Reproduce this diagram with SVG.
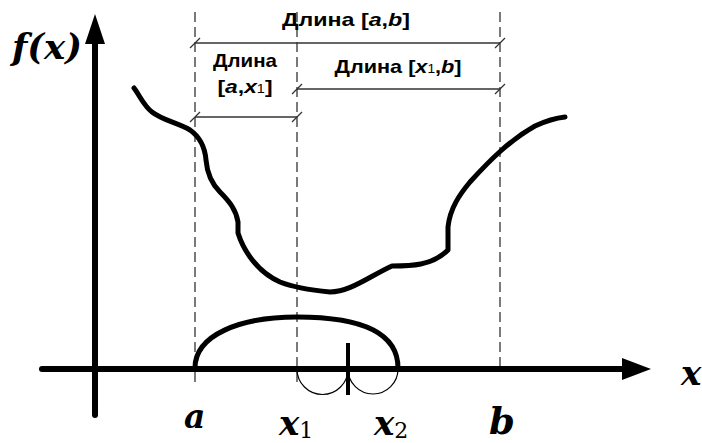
<svg xmlns="http://www.w3.org/2000/svg" width="702" height="443" viewBox="0 0 702 443">
<style>
.axis{stroke:#000;stroke-width:6;fill:none;stroke-linecap:round}
.dash{stroke:#333;stroke-width:1.3;stroke-dasharray:10,5;fill:none}
.dim{stroke:#333;stroke-width:1.3;fill:none}
.curve{stroke:#000;stroke-width:5;fill:none;stroke-linecap:round;stroke-linejoin:round}
.thin{stroke:#000;stroke-width:1.2;fill:none}
.lbl{font-family:'Liberation Sans',Arial,sans-serif;font-weight:bold;font-size:19px;fill:#000;text-anchor:middle}
.math{font-family:'DejaVu Serif',serif;font-weight:bold;font-style:italic;fill:#000}
.sub{font-weight:normal;font-style:normal}
</style>
<rect width="702" height="443" fill="#fff"/>
<g id="guides">
<line class="dash" x1="195" y1="12" x2="195" y2="385"/>
<line class="dash" x1="297" y1="12" x2="297" y2="385"/>
<line class="dash" x1="500" y1="12" x2="500" y2="370"/>
</g>
<g id="dimensions">
<line class="dim" x1="195" y1="43" x2="500" y2="43"/>
<line class="dim" x1="190" y1="48" x2="200" y2="38"/>
<line class="dim" x1="495" y1="48" x2="505" y2="38"/>
<line class="dim" x1="297" y1="89" x2="500" y2="89"/>
<line class="dim" x1="292" y1="94" x2="302" y2="84"/>
<line class="dim" x1="495" y1="94" x2="505" y2="84"/>
<line class="dim" x1="195" y1="117" x2="297" y2="117"/>
<line class="dim" x1="190" y1="122" x2="200" y2="112"/>
<line class="dim" x1="292" y1="122" x2="302" y2="112"/>
</g>
<g id="dim-labels">
<text class="lbl" x="346" y="26" textLength="128" lengthAdjust="spacingAndGlyphs">Длина [<tspan font-style="italic">a</tspan>,<tspan font-style="italic">b</tspan>]</text>
<text class="lbl" x="398" y="73" textLength="127" lengthAdjust="spacingAndGlyphs">Длина [<tspan font-style="italic">x</tspan><tspan font-size="12" font-weight="normal">1</tspan>,<tspan font-style="italic">b</tspan>]</text>
<text class="lbl" x="245" y="67" textLength="64" lengthAdjust="spacingAndGlyphs">Длина</text>
<text class="lbl" x="245" y="93" textLength="55" lengthAdjust="spacingAndGlyphs">[<tspan font-style="italic">a</tspan>,<tspan font-style="italic">x</tspan><tspan font-size="12" font-weight="normal">1</tspan>]</text>
</g>
<g id="axes">
<line class="axis" x1="95" y1="415" x2="95" y2="44"/>
<polygon points="95,14 85,44 105,44" fill="#000"/>
<line class="axis" x1="42" y1="369" x2="622" y2="369"/>
<polygon points="651,369 622,358 622,380" fill="#000"/>
</g>
<g id="function-curve">
<path class="curve" d="M134,88 C140,96 144,106 152,112 C162,120 178,123 190,130 C200,137 205,148 206,160 C207,172 210,182 220,192 C230,202 236,210 238,222 L238,233 C244,252 258,272 280,282 C295,288 310,290 330,292 C350,292 370,276 392,266 C410,266 432,266 448,250 L448,227 C450,208 460,194 470,182 C490,160 510,140 535,126 C548,120 556,118 565,117"/>
</g>
<g id="interval">
<path class="curve" d="M195,368 C195,335 240,317 297,317 C355,317 398,330 398,368"/>
<line x1="348" y1="343" x2="348" y2="395" stroke="#000" stroke-width="4"/>
<path class="thin" d="M297,369 A25.5,25.5 0 0 0 348,369 A25,25 0 0 0 398,369"/>
</g>
<g id="math-labels">
<text class="math" x="12" y="59" font-size="36" textLength="70" lengthAdjust="spacingAndGlyphs">f(x)</text>
<text class="math" x="681" y="385" font-size="34">x</text>
<text class="math" x="184" y="428" font-size="33">a</text>
<text class="math" x="279" y="435" font-size="34">x<tspan class="sub" font-size="22" dy="3">1</tspan></text>
<text class="math" x="374" y="435" font-size="34">x<tspan class="sub" font-size="22" dy="3">2</tspan></text>
<text class="math" x="489" y="434" font-size="37">b</text>
</g>
</svg>
